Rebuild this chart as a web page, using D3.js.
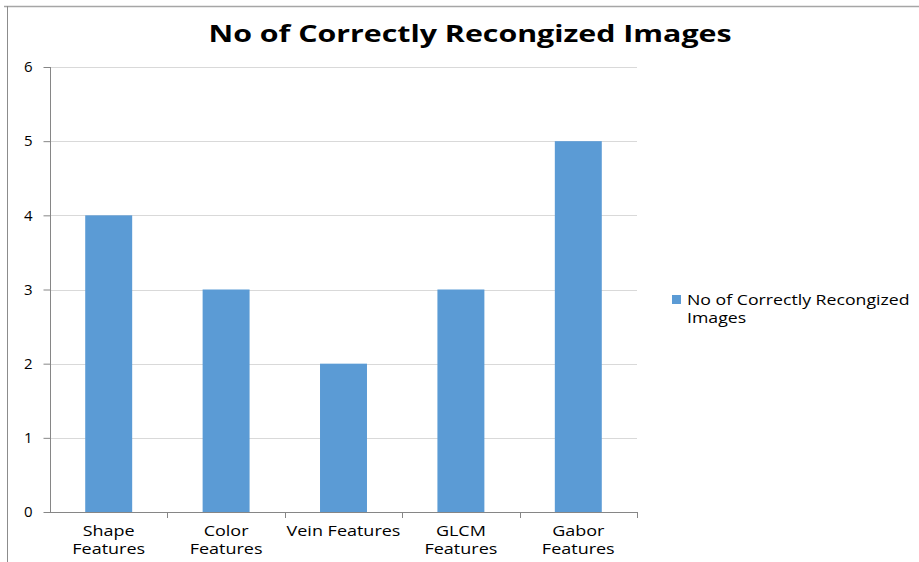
<!DOCTYPE html>
<html>
<head>
<meta charset="utf-8">
<script src="https://cdn.jsdelivr.net/npm/d3@7"></script>
<style>
  body { margin: 0; background: #fff; }
  text { font-family: "Open Sans", "DejaVu Sans", sans-serif; }
</style>
</head>
<body>
<div id="chart"></div>
<script>
const categories = ["Shape Features", "Color Features", "Vein Features", "GLCM Features", "Gabor Features"];
const categoryLines = [["Shape", "Features"], ["Color", "Features"], ["Vein Features"], ["GLCM", "Features"], ["Gabor", "Features"]];
const values = [4, 3, 2, 3, 5];
const yTicks = [0, 1, 2, 3, 4, 5, 6];
const seriesName = ["No of Correctly Recongized", "Images"];
const titleText = "No of Correctly Recongized Images";

const W = 919, H = 562;
const margin = { top: 67, left: 50, right: 282, bottom: 50 };
const width = W - margin.left - margin.right,
    height = H - margin.top - margin.bottom;

// the source font is drawn wider than Open Sans, stretch text to match
function stretch(sel, k) {
    sel.each(function() {
        const len = this.getComputedTextLength();
        d3.select(this).attr("textLength", len * k).attr("lengthAdjust", "spacingAndGlyphs");
    });
}

const svg = d3.select("#chart")
    .append("svg")
    .attr("width", W)
    .attr("height", H);

// outer frame (only top and left edges show in the picture)
svg.append("line").attr("x1", 4).attr("x2", W).attr("y1", 6.5).attr("y2", 6.5)
    .attr("stroke", "#a6a6a6").attr("stroke-width", 1.5);
svg.append("line").attr("x1", 7.5).attr("x2", 7.5).attr("y1", 6).attr("y2", H)
    .attr("stroke", "#8c8c8c").attr("stroke-width", 1);

svg.append("text")
    .attr("x", 470)
    .attr("y", 42)
    .attr("text-anchor", "middle")
    .attr("font-size", "24px")
    .attr("font-weight", "bold")
    .attr("textLength", 523)
    .attr("lengthAdjust", "spacingAndGlyphs")
    .attr("fill", "#000")
    .text(titleText);

const g = svg.append("g")
    .attr("transform", `translate(${margin.left},${margin.top})`);

const x = d3.scaleBand()
    .domain(categories)
    .range([0, width])
    .padding(0);

const y = d3.scaleLinear()
    .domain([0, 6])
    .range([height, 0]);

// gridlines
g.append("g")
    .selectAll("line")
    .data(yTicks.filter(t => t > 0))
    .join("line")
    .attr("x1", 0)
    .attr("x2", width)
    .attr("y1", d => Math.round(y(d)) + 0.5)
    .attr("y2", d => Math.round(y(d)) + 0.5)
    .attr("stroke", "#d9d9d9")
    .attr("stroke-width", 1.2);

// bars
const barW = x.bandwidth() * 0.4;
g.append("g")
    .selectAll("rect")
    .data(values)
    .join("rect")
    .attr("x", (d, i) => x(categories[i]) + (x.bandwidth() - barW) / 2)
    .attr("y", d => y(d))
    .attr("width", barW)
    .attr("height", d => height - y(d))
    .attr("fill", "#5b9bd5");

// y axis
const yAxis = g.append("g")
    .attr("transform", "translate(0.5,0)")
    .call(d3.axisLeft(y).tickValues(yTicks).tickSize(7).tickPadding(11).tickFormat(d3.format("d")));
yAxis.select(".domain").attr("stroke", "#868686").attr("d", `M0,0V${height}`);
yAxis.selectAll(".tick line").attr("stroke", "#868686");
yAxis.selectAll(".tick text").attr("font-size", "15px").attr("fill", "#000")
    .style("font-family", "'Open Sans', sans-serif");

// x axis
const xAxis = g.append("g")
    .attr("transform", `translate(0,${height + 0.5})`)
    .call(d3.axisBottom(x).tickSize(0).tickFormat(""));
xAxis.select(".domain").attr("stroke", "#868686").attr("d", `M0,0H${width}`);
xAxis.selectAll(".tick line").remove();

// boundary ticks between categories
g.append("g")
    .selectAll("line")
    .data(categories)
    .join("line")
    .attr("x1", d => Math.round(x(d) + x.bandwidth()) + 0.5)
    .attr("x2", d => Math.round(x(d) + x.bandwidth()) + 0.5)
    .attr("y1", height)
    .attr("y2", height + 6)
    .attr("stroke", "#868686");

// category labels
const labels = g.append("g")
    .selectAll("text")
    .data(categories)
    .join("text")
    .attr("x", d => x(d) + x.bandwidth() / 2)
    .attr("y", height + 24)
    .attr("text-anchor", "middle")
    .attr("font-size", "14.5px")
    .attr("fill", "#000");
labels.each(function(d, i) {
    const t = d3.select(this);
    categoryLines[i].forEach((ln, j) => {
        t.append("tspan")
            .attr("x", x(d) + x.bandwidth() / 2)
            .attr("dy", j === 0 ? 0 : 18)
            .text(ln);
    });
});
stretch(labels.selectAll("tspan"), 1.24);

// legend
const legend = svg.append("g").attr("transform", "translate(672,295)");
legend.append("rect")
    .attr("width", 9)
    .attr("height", 9)
    .attr("fill", "#5b9bd5");
const legendText = legend.append("text")
    .attr("x", 15)
    .attr("y", 10)
    .attr("font-size", "14.5px")
    .attr("fill", "#000")
    .selectAll("tspan")
    .data(seriesName)
    .join("tspan")
    .attr("x", 15)
    .attr("dy", (d, i) => i === 0 ? 0 : 18)
    .text(d => d);
stretch(legendText, 1.22);
</script>
</body>
</html>
